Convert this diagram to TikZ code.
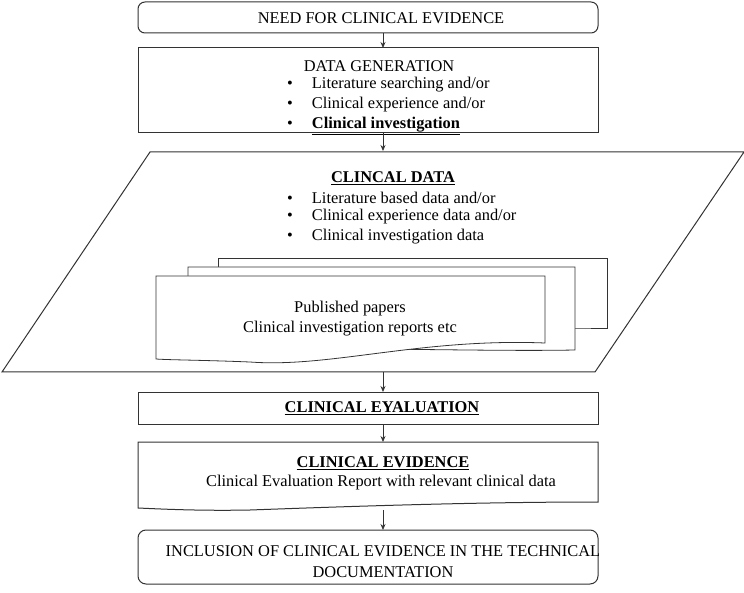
\documentclass[tikz,border=0pt]{standalone}
\usepackage{fontspec}
\setmainfont{Liberation Serif}
\usetikzlibrary{arrows.meta}
\begin{document}
\begin{tikzpicture}[x=1pt,y=-1pt,
  every node/.style={font=\fontsize{16.4}{20}\selectfont, inner sep=0pt},
  shp/.style={draw=black!80, line width=1pt, fill=white},
  arr/.style={draw=black!80, line width=0.8pt, -{Stealth[length=6pt,width=5pt]}},
  bl/.style={anchor=west}]
\useasboundingbox (0,0) rectangle (744,593);
% box 1
\draw[shp, rounded corners=7pt] (138,2) rectangle (598,33);
\node (n1) at (381,18) {NEED FOR CLINICAL EVIDENCE};
\coordinate (a1) at (383,33); \coordinate (b1) at (383,48);
\draw[arr] (a1) -- (b1);
% box 2
\draw[shp] (138,48) rectangle (598,133);
\node (n2) at (379,66) {DATA GENERATION};
\node[bl] (b21) at (287,85) {\textbullet\hspace{19pt}Literature searching and/or};
\node[bl] (b22) at (287,105) {\textbullet\hspace{19pt}Clinical experience and/or};
\node[bl] (b23) at (287,126) {\textbullet\hspace{19pt}\textbf{\underline{Clinical investigation}}};
\coordinate (a2) at (383,133); \coordinate (b2) at (383,151);
\draw[arr] (a2) -- (b2);
% parallelogram
\draw[shp] (150,152) -- (744,152) -- (595,372) -- (2,372) -- cycle;
\node (n3) at (393,178) {\textbf{\underline{CLINCAL DATA}}};
\node[bl] (b31) at (287,198) {\textbullet\hspace{19pt}Literature based data and/or};
\node[bl] (b32) at (287,217) {\textbullet\hspace{19pt}Clinical experience data and/or};
\node[bl] (b33) at (287,237) {\textbullet\hspace{19pt}Clinical investigation data};
% documents
\draw[shp, line width=0.8pt] (218,258) -- (607,258) -- (607,328) -- (575,328) -- (218,328) -- cycle;
\draw[shp, line width=0.8pt] (188,267) -- (575,267) -- (575,350) .. controls (470,352) and (300,345) .. (188,352) -- cycle;
\draw[shp, line width=0.8pt] (156,276) -- (545,276) -- (545,343) .. controls (420,338) and (330,368) .. (250,362) .. controls (200,360) and (170,360) .. (156,359) -- cycle;
\node[align=center] (n4) at (350,319) {Published papers\\Clinical investigation reports etc};
\coordinate (a3) at (383,372); \coordinate (b3) at (383,392);
\draw[arr] (a3) -- (b3);
% evaluation
\draw[shp] (138,392) rectangle (598,424);
\node (n5) at (382,408) {\textbf{\underline{CLINICAL EYALUATION}}};
\coordinate (a4) at (383,424); \coordinate (b4) at (383,442);
\draw[arr] (a4) -- (b4);
% evidence
\draw[shp] (138,442) -- (598,442) -- (598,502) .. controls (480,502) and (360,506) .. (250,510) .. controls (200,511) and (160,509) .. (138,508) -- cycle;
\node (n6) at (383,463) {\textbf{\underline{CLINICAL EVIDENCE}}};
\node (n7) at (381,483) {Clinical Evaluation Report with relevant clinical data};
\coordinate (a5) at (383,510); \coordinate (b5) at (383,530);
\draw[arr] (a5) -- (b5);
% final
\draw[shp, rounded corners=8pt] (138,530) rectangle (598,584);
\node[align=center, font=\fontsize{16.4}{21}\selectfont] (n8) at (383,562) {INCLUSION OF CLINICAL EVIDENCE IN THE TECHNICAL\\DOCUMENTATION};
\end{tikzpicture}
\end{document}
